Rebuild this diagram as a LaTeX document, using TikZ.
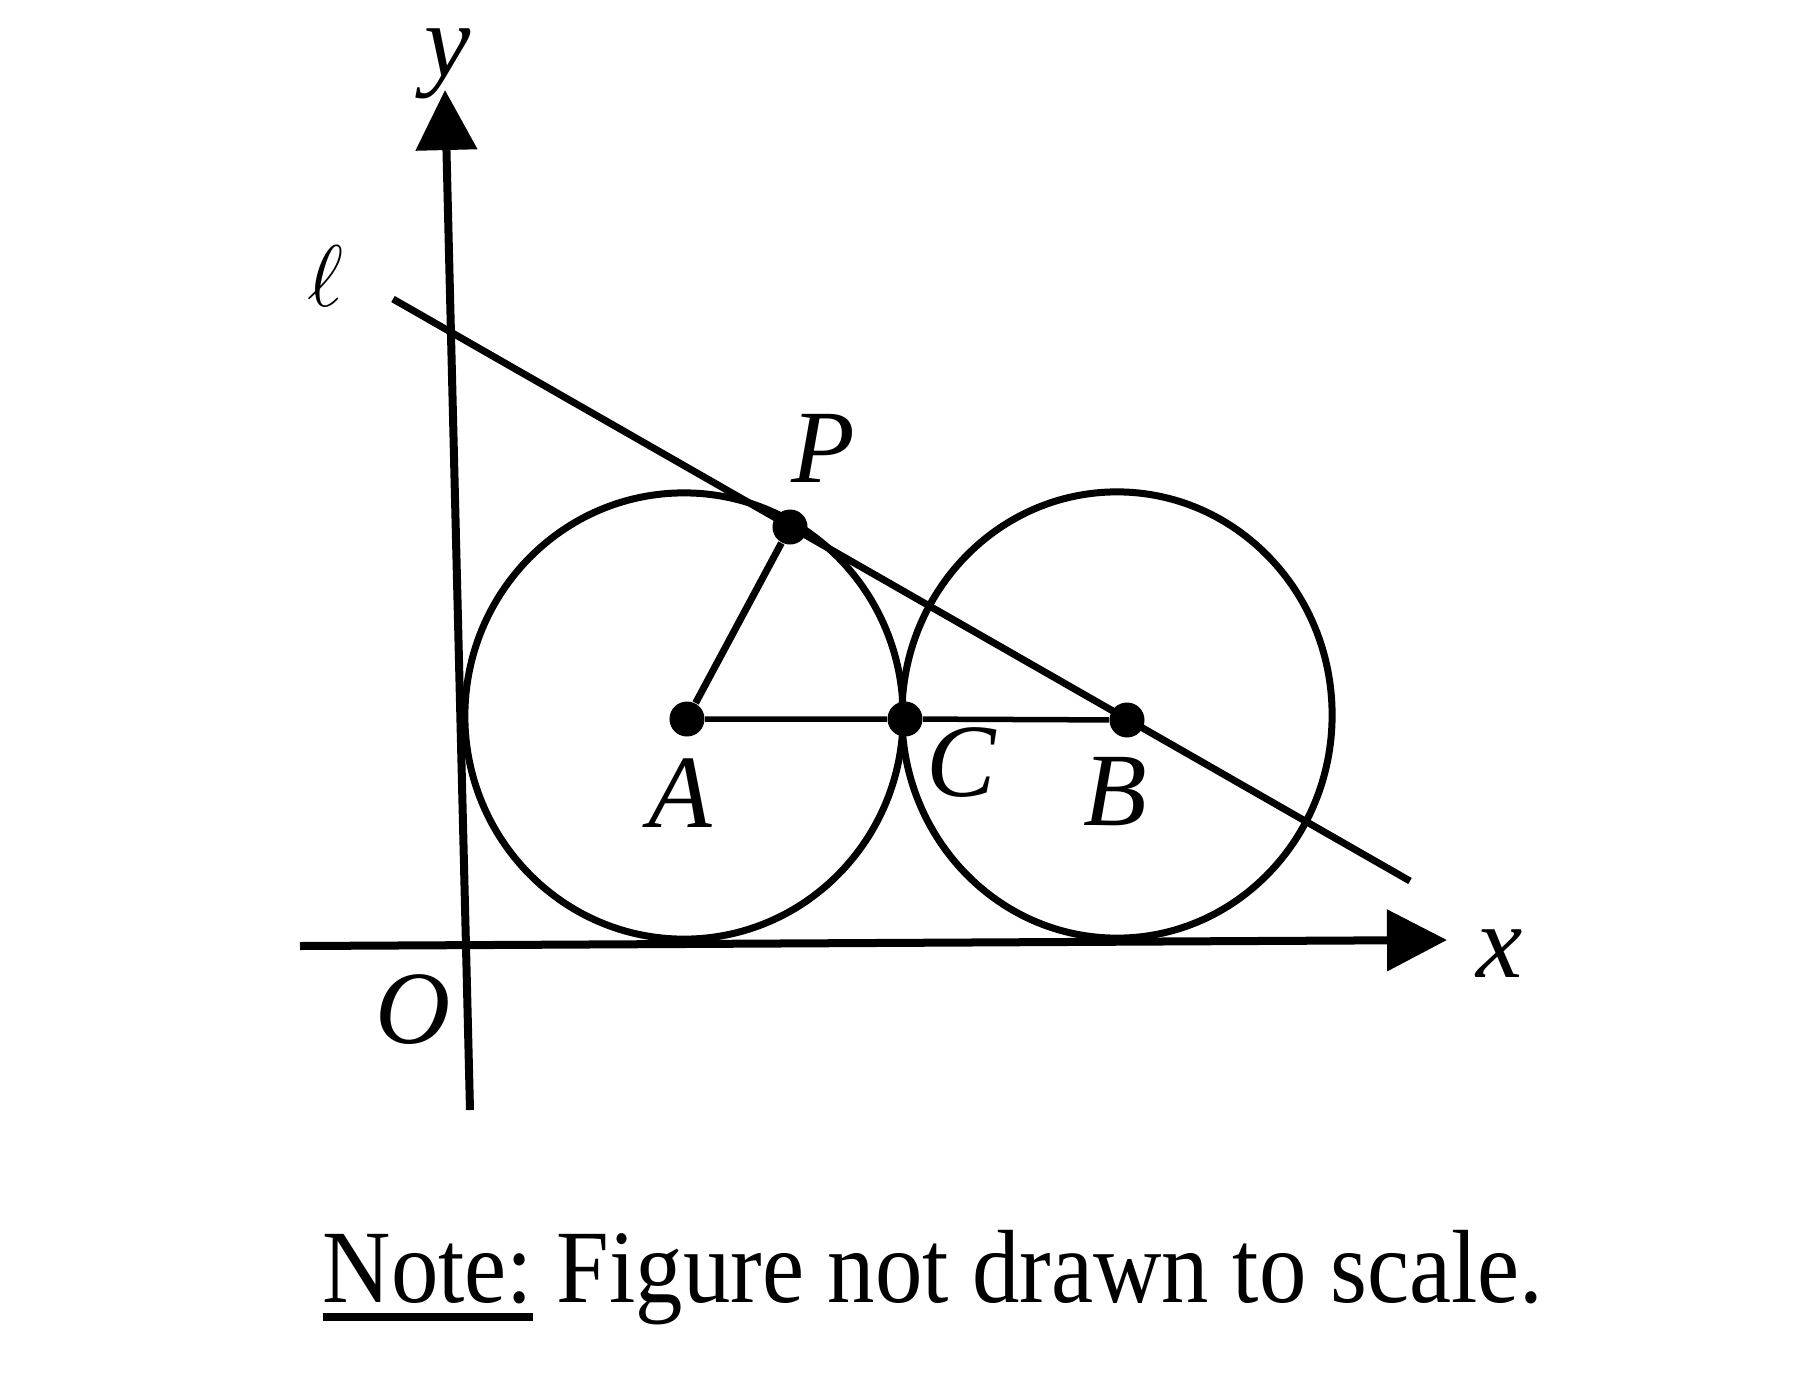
\documentclass[tikz,border=0pt]{standalone}
\usepackage{fontspec}
\setmainfont{Liberation Serif}
\usetikzlibrary{arrows.meta}
\newcommand{\noteline}[1]{\setbox0\hbox{#1}\rlap{\rule[-0.18em]{\wd0}{0.07em}}\box0\relax}

\begin{document}
\begin{tikzpicture}[
  x=0.01cm, y=-0.01cm,
  font=\fontsize{29.6}{34}\selectfont,
  ax/.style={line width=0.08cm, -{Triangle[length=0.6cm, width=0.6cm]}},
  ln/.style={line width=0.07cm},
  dot/.style={circle, fill=black, inner sep=0pt, minimum size=0.35cm},
  lbl/.style={inner sep=0pt, font=\fontsize{29.6}{34}\selectfont\itshape}
]
\useasboundingbox (0,0) rectangle (1796,1375);
% axes
\coordinate (ybot) at (470,1110);
\coordinate (ytip) at (445,90);
\coordinate (xleft) at (300,946);
\coordinate (xtip) at (1447,940);
\draw[ax] (ybot) -- (ytip);
\draw[ax] (xleft) -- (xtip);
% circles
\coordinate (cA) at (684,716);
\coordinate (cB) at (1117,715);
\draw[ln] (cA) ellipse [x radius=2.19cm, y radius=2.23cm];
\draw[ln] (cB) ellipse [x radius=2.15cm, y radius=2.23cm];
% points
\node[dot] (A) at (687,719) {};
\node[dot] (C) at (905,719) {};
\node[dot] (B) at (1127,720) {};
\node[dot] (P) at (790,527) {};
% line l
\coordinate (l1) at (393,299);
\coordinate (l2) at (1410,881);
\draw[ln] (l1) -- (l2);
\draw[ln] (A) -- (P);
\draw[line width=0.055cm] (A) -- (C) -- (B);
% labels
\node[lbl] (ylab) at (448,64) {y};
\node[inner sep=0pt] (elllab) at (325,276) {$\ell$};
\node[lbl] (Plab) at (823,448) {P};
\node[lbl] (Alab) at (680,793) {A};
\node[lbl] (Clab) at (961,763) {C};
\node[lbl] (Blab) at (1115,792) {B};
\node[lbl] (xlab) at (1500,954) {x};
\node[lbl] (Olab) at (413,1010) {O};
\node[anchor=base west, inner sep=0pt] (note) at (322,1302)
  {\scalebox{0.91}[1]{\noteline{Note:} Figure not drawn to scale.}};
\end{tikzpicture}
\end{document}
